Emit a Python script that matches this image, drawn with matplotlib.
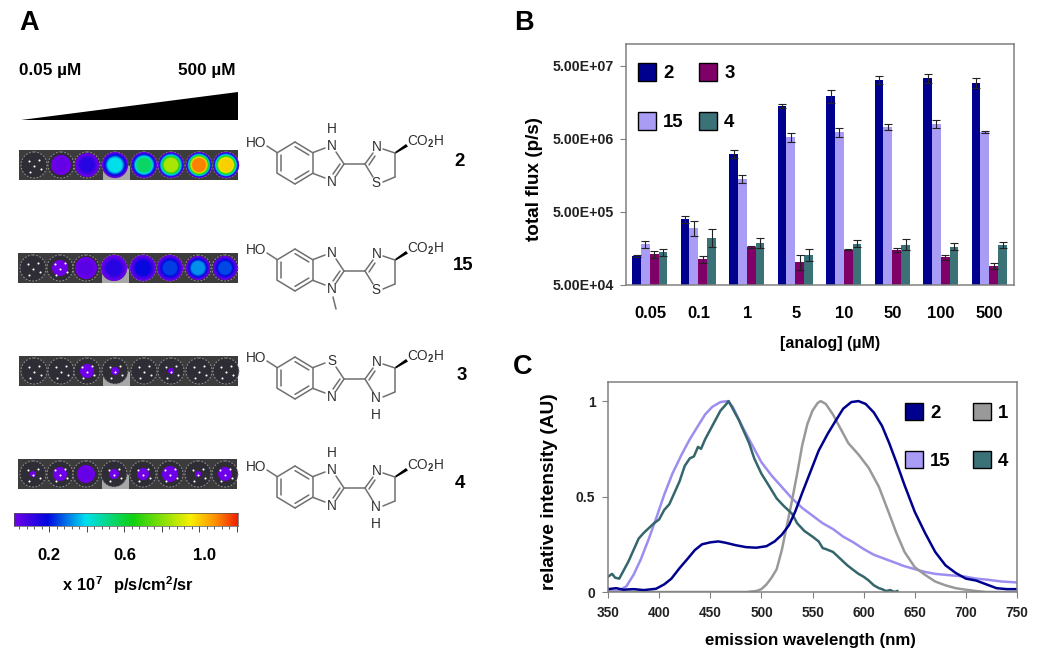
import matplotlib
matplotlib.use("Agg")
import matplotlib.pyplot as plt
import numpy as np
from matplotlib.colors import LinearSegmentedColormap
from matplotlib.patches import Circle, Patch, Polygon, Rectangle

plt.rcParams["font.family"] = ["Liberation Sans", "DejaVu Sans"]
plt.rcParams["font.weight"] = "bold"
plt.rcParams["axes.labelweight"] = "bold"
plt.rcParams["mathtext.fontset"] = "custom"
plt.rcParams["mathtext.rm"] = "Liberation Sans"
plt.rcParams["mathtext.bf"] = "Liberation Sans:bold"

W, H = 1050, 659

# panel B
concentrations = ["0.05", "0.1", "1", "5", "10", "50", "100", "500"]
flux_2 = [1.25e5, 3.97e5, 3.12e6, 1.42e7, 1.92e7, 3.21e7, 3.39e7, 2.90e7]
flux_2_top = [1.29e5, 4.41e5, 3.57e6, 1.51e7, 2.34e7, 3.65e7, 3.93e7, 3.39e7]
flux_15 = [1.80e5, 2.99e5, 1.42e6, 5.27e6, 6.17e6, 7.30e6, 8.02e6, 6.30e6]
flux_15_top = [2.02e5, 3.80e5, 1.61e6, 6.11e6, 7.08e6, 8.02e6, 9.10e6, 6.50e6]
flux_3 = [1.30e5, 1.12e5, 1.66e5, 1.02e5, 1.52e5, 1.51e5, 1.20e5, 9.1e4]
flux_3_top = [1.45e5, 1.25e5, 1.69e5, 1.30e5, 1.54e5, 1.62e5, 1.30e5, 1.01e5]
flux_4 = [1.39e5, 2.18e5, 1.88e5, 1.29e5, 1.84e5, 1.77e5, 1.67e5, 1.77e5]
flux_4_top = [1.54e5, 2.90e5, 2.20e5, 1.54e5, 2.07e5, 2.11e5, 1.86e5, 1.96e5]
flux_ticks = [5e4, 5e5, 5e6, 5e7]
flux_tick_labels = ["5.00E+04", "5.00E+05", "5.00E+06", "5.00E+07"]

# panel C
wl_2 = [350, 358, 365, 375, 385, 397, 405, 412, 420, 428, 435, 442, 450, 458, 465, 475, 485, 495, 505,
        513, 520, 527, 533, 540, 548, 556, 565, 573, 580, 588, 595, 602, 610, 618, 625, 632, 640, 650,
        660, 670, 680, 690, 700, 710, 720, 730, 740, 750]
em_2 = [.015, .02, .012, .015, .01, .017, .04, .07, .125, .175, .22, .25, .26, .265, .258, .245, .235, .232, .24,
        .265, .30, .35, .42, .52, .63, .74, .83, .90, .96, .995, 1.0, .985, .94, .87, .78, .68, .56, .42,
        .31, .21, .14, .10, .07, .06, .04, .02, .015, .015]
wl_15 = [350, 360, 368, 375, 382, 390, 398, 405, 413, 422, 430, 438, 445, 452, 460, 467, 472, 482, 492, 500,
         510, 520, 530, 540, 550, 560, 570, 580, 590, 600, 610, 620, 630, 640, 650, 660, 670, 680, 690, 700,
         710, 720, 735, 750]
em_15 = [.005, .005, .03, .09, .17, .28, .40, .51, .62, .72, .80, .87, .93, .97, .995, 1.0, .97, .86, .76, .68,
         .61, .55, .49, .44, .40, .36, .33, .29, .26, .225, .195, .175, .155, .135, .12, .105, .095, .09, .085, .08,
         .07, .065, .055, .05]
wl_1 = [350, 485, 495, 500, 505, 510, 515, 520, 525, 530, 535, 540, 545, 550, 555, 558, 563, 570, 578, 585,
        595, 605, 615, 625, 632, 640, 650, 660, 670, 680, 690, 700, 710, 720, 750]
em_1 = [0, 0, .005, .015, .04, .075, .12, .22, .35, .48, .62, .77, .88, .95, .99, 1.0, .985, .93, .85, .78,
        .72, .65, .55, .41, .31, .21, .13, .09, .055, .035, .02, .012, .005, 0, 0]
wl_4 = [350, 354, 357, 361, 365, 370, 375, 380, 385, 390, 395, 400, 405, 410, 415, 420, 425, 430, 434, 438,
        441, 445, 450, 455, 460, 465, 468, 473, 478, 483, 488, 493, 500, 507, 515, 522, 530, 535, 542, 550,
        556, 560, 563, 570, 577, 584, 590, 595, 600, 605, 610, 615, 618, 622, 626, 630, 633]
em_4 = [.08, .095, .075, .07, .11, .16, .22, .28, .31, .335, .36, .38, .43, .46, .52, .58, .66, .70, .71, .76,
        .75, .80, .85, .90, .95, .98, 1.0, .95, .90, .84, .78, .70, .62, .56, .49, .45, .41, .36, .32, .29,
        .265, .23, .225, .21, .175, .14, .115, .095, .08, .06, .035, .02, .015, .005, .01, 0, .005]

# panel A, well brightness read against the colour bar
wells_2 = [0, .03, .13, .40, .55, .85, 1.1, 1.0]
wells_15 = [0, .02, .05, .13, .18, .24, .32, .25]
wells_3 = [0, 0, .02, .01, 0, .01, 0, 0]
wells_4 = [.01, .02, .03, .01, .01, .02, .01, .02]
glow_2 = [0, 10, 12, 13, 13, 13, 13, 13]
glow_15 = [0, 8, 11, 13, 13, 13, 12, 12]
glow_3 = [0, 0, 7, 4, 0, 3, 0, 0]
glow_4 = [3, 7, 9, 5, 6, 8, 3, 7]

C_2 = "#00008f"
C_15 = "#a99cf4"
C_3 = "#7f0066"
C_4 = "#3a7278"
C_1 = "#999999"
LINE_15 = "#9c8ef0"
LINE_4 = "#35666b"
GREY = "#808080"

well_cmap = LinearSegmentedColormap.from_list(
    "well",
    [(0, "#7000e8"), (.15, "#0008e0"), (.32, "#00e0f0"), (.53, "#10d010"),
     (.79, "#f8f000"), (.9, "#ff9000"), (1, "#f02000")],
)


def px_axes(left, top, right, bottom):
    return fig.add_axes([left / W, 1 - bottom / H, (right - left) / W, (bottom - top) / H])


def well_color(v):
    return well_cmap((v - .011) / 1.196)


fig = plt.figure(figsize=(W / 100, H / 100), dpi=100, facecolor="white")

# pixel canvas for panel A
canvas = fig.add_axes([0, 0, 1, 1], zorder=0)
canvas.set_xlim(0, W)
canvas.set_ylim(H, 0)
canvas.axis("off")

canvas.text(19, 30, "A", fontsize=19.5, ha="left", va="baseline", color="black")
canvas.text(514, 30, "B", fontsize=19.5, ha="left", va="baseline", color="black")
canvas.text(513, 374, "C", fontsize=19.5, ha="left", va="baseline", color="black")

canvas.text(19, 70, "0.05 µM", fontsize=12.3, ha="left", va="center")
canvas.text(235, 70, "500 µM", fontsize=12.3, ha="right", va="center")
canvas.add_patch(Polygon([(21, 120), (238, 92), (238, 120)], fc="black", ec="none"))

well_x = [34, 61, 87, 115, 144, 171, 199, 226]
dots = [(-5, -4), (5, -5), (0, 1), (-4, 7), (7, 4)]


def draw_strip(x0, x1, y0, peaks, glows):
    canvas.add_patch(Rectangle((x0, y0), x1 - x0, 30, fc="#3c3c3c", ec="none"))
    canvas.add_patch(Rectangle((x0 + 84, y0 + 16), 27, 14, fc="#a8a8a8", ec="none"))
    yc = y0 + 15
    for x, p, r in zip(well_x, peaks, glows):
        x = x + (x0 - 19)
        canvas.add_patch(Circle((x, yc), 13, fc="#2e2c34", ec="#8c8c8c", lw=0.8, ls=(0, (1.5, 1.5))))
        if r > 0:
            n = 12
            for k in range(n):
                t = k / (n - 1)
                # colour reaches the peak early so the core stays flat
                v = .012 + min(1, t * 1.5) * (p - .012)
                canvas.add_patch(Circle((x, yc), r * (1 - .65 * t), fc=well_color(v), ec="none"))
        if p < .03:
            for dx, dy in dots:
                canvas.plot(x + dx, yc + dy, "o", ms=1.5, color="white", mec="none")


draw_strip(19, 238, 150, wells_2, glow_2)
draw_strip(18, 238, 253, wells_15, glow_15)
draw_strip(19, 238, 356, wells_3, glow_3)
draw_strip(18, 237, 459, wells_4, glow_4)

# chemical structures
BOND = "#707070"
ATOM = "#303030"


def bond(x, y, a, b):
    canvas.plot([x + a[0], x + b[0]], [y + a[1], y + b[1]], color=BOND, lw=1.1, solid_capstyle="round")


def atom(x, y, dx, dy, s):
    canvas.text(x + dx, y + dy, s, fontsize=9.8, fontweight="normal", color=ATOM, ha="center", va="center")


def molecule(x, y, top, top_h, methyl, ring_s):
    ring = [(0, -21), (17.7, -10.3), (17.7, 10.3), (0, 21), (-17.7, 10.3), (-17.7, -10.3)]
    for i in range(6):
        bond(x, y, ring[i], ring[(i + 1) % 6])
    for i in (0, 2, 4):
        a, b = ring[i], ring[i + 1]
        bond(x, y, (a[0] * .78, a[1] * .78), (b[0] * .78, b[1] * .78))
    bond(x, y, (-28, -17), (-17.7, -10.3))
    atom(x, y, -39, -20, "HO")
    # five ring with the two nitrogens
    bond(x, y, (17.7, -10.3), (30, -15))
    bond(x, y, (17.7, 10.3), (30, 15))
    bond(x, y, (49, 1), (41, -11))
    bond(x, y, (49, 1), (41, 13))
    bond(x, y, (45, 1), (38, 11))
    atom(x, y, 37, -17, top)
    if top_h:
        atom(x, y, 37, -34, "H")
    atom(x, y, 37, 19, "N")
    if methyl:
        bond(x, y, (38, 27), (41, 39))
    # link and second ring
    bond(x, y, (49, 1), (70, 1))
    bond(x, y, (70, 1), (78, -10))
    bond(x, y, (74, 2), (80, -7))
    bond(x, y, (88, -14), (100, -10))
    bond(x, y, (100, -10), (100, 14))
    bond(x, y, (100, 14), (88, 19))
    bond(x, y, (70, 1), (78, 14))
    atom(x, y, 82, -16, "N")
    if ring_s:
        atom(x, y, 81, 20, "S")
    else:
        atom(x, y, 81, 20, "N")
        atom(x, y, 81, 37, "H")
    canvas.add_patch(Polygon([(x + 100, y - 11), (x + 100, y - 9), (x + 113, y - 16.5), (x + 111, y - 19)], fc="black", ec="none"))
    canvas.text(x + 112, y - 21, r"CO$_{\mathrm{2}}$H", fontsize=9.8, fontweight="normal", color=ATOM, ha="left", va="center")


molecule(295, 163, "N", True, False, True)
molecule(295, 270, "N", False, True, True)
molecule(295, 378, "S", False, False, False)
molecule(295, 487, "N", True, False, False)

canvas.text(460, 161, "2", fontsize=13.4, ha="center", va="center")
canvas.text(463, 266, "15", fontsize=13.4, ha="center", va="center")
canvas.text(462, 375, "3", fontsize=13.4, ha="center", va="center")
canvas.text(460, 483, "4", fontsize=13.4, ha="center", va="center")

# colour bar
cbar = px_axes(14, 513, 238, 526)
cbar.imshow(np.linspace(0, 1, 256)[None, :], cmap=well_cmap, aspect="auto", extent=[.011, 1.207, 0, 1])
cbar.set_yticks([])
cbar.set_xticks(np.arange(.2, 1.21, .2))
cbar.set_xticks(np.arange(.04, 1.2, .04), minor=True)
cbar.set_xticklabels([])
cbar.tick_params(axis="x", which="major", length=4.5, width=.7, color="#444444")
cbar.tick_params(axis="x", which="minor", length=2.2, width=.6, color="#444444")
for s in cbar.spines.values():
    s.set_linewidth(.5)
    s.set_color("#555555")
canvas.text(49, 556, "0.2", fontsize=12, ha="center", va="center")
canvas.text(125, 556, "0.6", fontsize=12, ha="center", va="center")
canvas.text(205, 556, "1.0", fontsize=12, ha="center", va="center")
canvas.text(128, 585, r"$\mathbf{x\ 10^{7}\ \ p/s/cm^{2}/sr}$", fontsize=11.8, ha="center", va="center")

# panel B
ax_b = px_axes(626, 44, 1014, 285)
x = np.arange(len(concentrations))
bar_w = .182
series = [(flux_2, flux_2_top, C_2), (flux_15, flux_15_top, C_15), (flux_3, flux_3_top, C_3), (flux_4, flux_4_top, C_4)]
for i, (vals, tops, col) in enumerate(series):
    vals = np.array(vals)
    tops = np.array(tops)
    pos = x + (i - 1.5) * bar_w - .01
    ax_b.bar(pos, vals, width=bar_w, color=col, bottom=1e3)
    ax_b.errorbar(pos, vals, yerr=[vals - vals * vals / tops, tops - vals], fmt="none",
                  ecolor="#222222", elinewidth=.8, capsize=2.8, capthick=.8)
ax_b.set_yscale("log")
ax_b.set_ylim(5e4, 1e8)
ax_b.set_xlim(-.5, 7.5)
ax_b.set_yticks(flux_ticks)
ax_b.set_yticklabels(flux_tick_labels, fontsize=10.2, color="#222222")
ax_b.minorticks_off()
ax_b.set_xticks(x)
ax_b.set_xticklabels(concentrations, fontsize=12)
ax_b.tick_params(axis="x", length=0, pad=15)
ax_b.tick_params(axis="y", length=4, width=.8, color=GREY, pad=5)
for s in ax_b.spines.values():
    s.set_color(GREY)
    s.set_linewidth(1.1)
ax_b.set_ylabel("total flux (p/s)", fontsize=13.6, va="center")
ax_b.yaxis.set_label_coords(-.237, .44)
ax_b.set_xlabel("[analog] (µM)", fontsize=11.5, va="center")
ax_b.xaxis.set_label_coords(.527, -.241)
ax_b.legend(
    handles=[Patch(fc=C_2, ec="black", label="2"), Patch(fc=C_15, ec="black", label="15"),
             Patch(fc=C_3, ec="black", label="3"), Patch(fc=C_4, ec="black", label="4")],
    ncol=2, frameon=False, fontsize=13.4, loc="upper left", bbox_to_anchor=(.03, .92), borderaxespad=0,
    borderpad=0, handlelength=.97, handleheight=1.08, handletextpad=.4, labelspacing=1.6, columnspacing=.8,
)

# panel C
ax_c = px_axes(608, 382, 1017, 592)
ax_c.plot(wl_15, em_15, color=LINE_15, lw=1.8)
ax_c.plot(wl_1, em_1, color=C_1, lw=1.8)
ax_c.plot(wl_4, em_4, color=LINE_4, lw=1.8)
ax_c.plot(wl_2, em_2, color=C_2, lw=1.8)
ax_c.set_xlim(350, 750)
ax_c.set_ylim(0, 1.1)
ax_c.set_xticks(np.arange(350, 751, 50))
ax_c.set_yticks([0, .5, 1])
ax_c.set_yticklabels(["0", "0.5", "1"], fontsize=10, color="#222222")
ax_c.tick_params(axis="x", labelsize=9.8, labelcolor="#222222", length=4, width=.8, color=GREY, pad=6)
ax_c.tick_params(axis="y", length=4, width=.8, color=GREY, pad=5)
for s in ax_c.spines.values():
    s.set_color(GREY)
    s.set_linewidth(1.1)
ax_c.set_ylabel("relative intensity (AU)", fontsize=13.8, va="center")
ax_c.yaxis.set_label_coords(-.144, .476)
ax_c.set_xlabel("emission wavelength (nm)", fontsize=12.2, va="center")
ax_c.xaxis.set_label_coords(.494, -.229)
ax_c.legend(
    handles=[Patch(fc=C_2, ec="black", label="2"), Patch(fc=C_15, ec="black", label="15"),
             Patch(fc=C_1, ec="black", label="1"), Patch(fc=C_4, ec="black", label="4")],
    ncol=2, frameon=False, fontsize=13.4, loc="upper left", bbox_to_anchor=(.726, .90), borderaxespad=0,
    borderpad=0, handlelength=.95, handleheight=1.05, handletextpad=.4, labelspacing=1.55, columnspacing=1.2,
)

plt.savefig("out.png", dpi=100, facecolor="white")
